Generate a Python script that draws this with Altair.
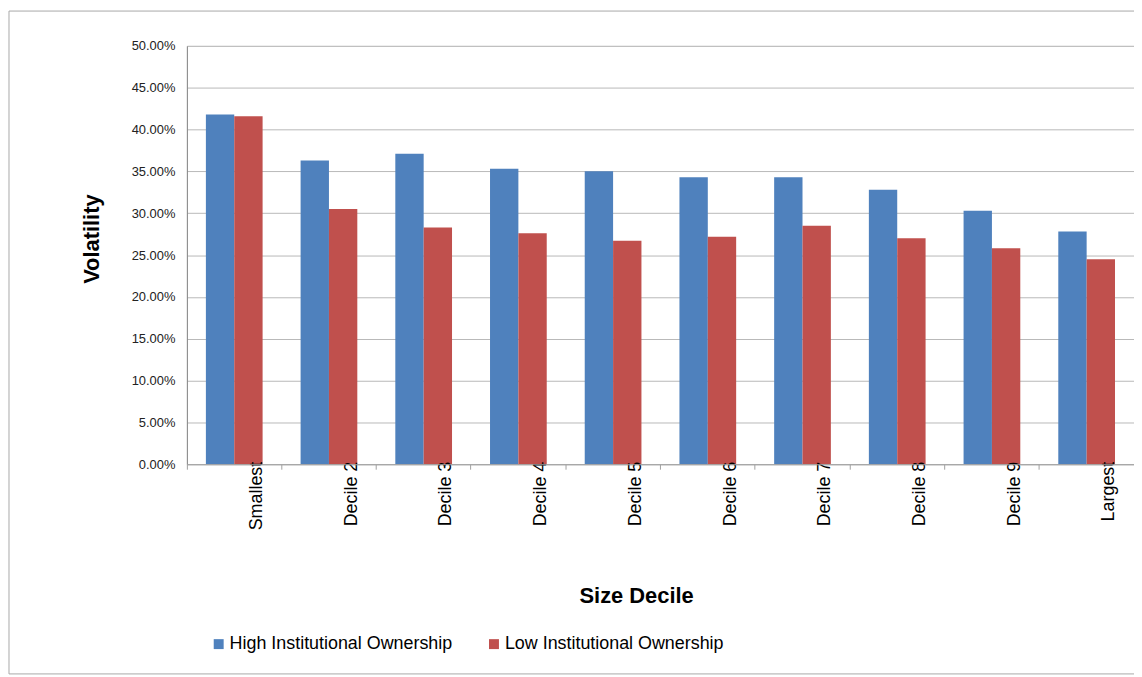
import altair as alt
import pandas as pd

deciles = ["Smallest", "Decile 2", "Decile 3", "Decile 4", "Decile 5",
           "Decile 6", "Decile 7", "Decile 8", "Decile 9", "Largest"]
series_names = ["High Institutional Ownership", "Low Institutional Ownership"]
high_vals = [0.418, 0.363, 0.371, 0.353, 0.350, 0.343, 0.343, 0.328, 0.303, 0.278]
low_vals = [0.416, 0.305, 0.283, 0.276, 0.267, 0.272, 0.285, 0.270, 0.258, 0.245]
y_ticks = [0.0, 0.05, 0.10, 0.15, 0.20, 0.25, 0.30, 0.35, 0.40, 0.45, 0.50]
colors = ["#4F81BD", "#C0504D"]

rows = []
for d, h, l in zip(deciles, high_vals, low_vals):
    rows.append({"decile": d, "series": series_names[0], "value": h})
    rows.append({"decile": d, "series": series_names[1], "value": l})
df = pd.DataFrame(rows)

FONT = "Liberation Sans"

bars = alt.Chart(df).mark_bar(strokeWidth=0).encode(
    x=alt.X("decile:N", sort=deciles,
            scale=alt.Scale(paddingInner=0, paddingOuter=0),
            axis=alt.Axis(title="Size Decile", bandPosition=0, labelAngle=-90,
                          labelAlign="right", labelBaseline="middle",
                          labelOffset=23, labelPadding=-8, tickSize=5,
                          labelFontSize=18, labelColor="#000000", labelFont=FONT,
                          labelLimit=300, zindex=2,
                          domainColor="#a0a0a0", tickColor="#a0a0a0", grid=False,
                          titleFont=FONT, titleFontSize=22, titleFontWeight="bold",
                          titleX=452, titleY=132, titleAlign="center",
                          titleBaseline="middle", titleColor="#000000")),
    xOffset=alt.XOffset("series:N", sort=series_names,
                        scale=alt.Scale(paddingInner=0, paddingOuter=0.67)),
    y=alt.Y("value:Q", scale=alt.Scale(domain=[0, 0.5]),
            axis=alt.Axis(title="Volatility", format=".2%",
                          values=y_ticks,
                          labelFontSize=13, labelFont=FONT, labelColor="#222222",
                          labelPadding=12, ticks=False,
                          domainColor="#868686", gridColor="#b8b8b8",
                          titleFont=FONT, titleFontSize=22, titleFontWeight="bold",
                          titleX=-96, titleY=194, titleAlign="center",
                          titleBaseline="middle", titleColor="#000000")),
    color=alt.Color("series:N", sort=series_names,
                    scale=alt.Scale(domain=series_names, range=colors),
                    legend=alt.Legend(title=None, orient="none", legendX=23,
                                      legendY=593, direction="horizontal",
                                      symbolType="square", symbolSize=100,
                                      symbolStrokeWidth=0, labelFontSize=18,
                                      labelFont=FONT, labelColor="#000000",
                                      labelLimit=400,
                                      columnPadding=32, labelOffset=2)),
)

border = alt.Chart(pd.DataFrame({"a": [0]})).mark_rect(
    fill=None, stroke="#a8a8a8", strokeWidth=1
).encode(
    x=alt.value(-179), x2=alt.value(1000), y=alt.value(-35), y2=alt.value(632)
)

chart = alt.layer(bars, border).properties(
    width=953, height=421,
    autosize=alt.AutoSizeParams(type="none"),
    padding={"left": 180, "top": 36, "right": 0, "bottom": 210},
).configure_view(stroke=None).configure(background="white")

chart.save("out.html", embed_options={"renderer": "svg", "actions": False})
